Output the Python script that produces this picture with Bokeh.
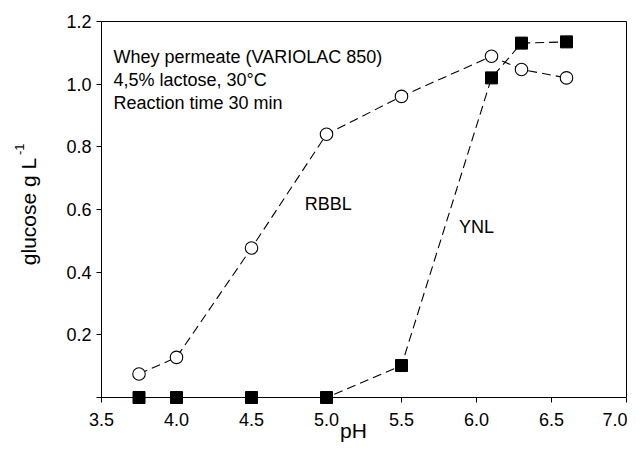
from bokeh.plotting import figure
from bokeh.models import Range1d, FixedTicker, NumeralTickFormatter, Label, ColumnDataSource
from bokeh.core.properties import value
from bokeh.embed import file_html
from bokeh.resources import INLINE
import math

# --- data ---
ph_rbbl = [3.75, 4.0, 4.5, 5.0, 5.5, 6.1, 6.3, 6.6]
glucose_rbbl = [0.075, 0.128, 0.477, 0.84, 0.961, 1.089, 1.047, 1.02]
ph_ynl = [3.75, 4.0, 4.5, 5.0, 5.5, 6.1, 6.3, 6.6]
glucose_ynl = [0.0, 0.0, 0.0, 0.0, 0.102, 1.02, 1.131, 1.135]
x_ticks = [3.5, 4.0, 4.5, 5.0, 5.5, 6.0, 6.5, 7.0]
y_ticks = [0.2, 0.4, 0.6, 0.8, 1.0, 1.2]
y_minor = [0.0]
notes = ["Whey permeate (VARIOLAC 850)", "4,5% lactose, 30°C", "Reaction time 30 min"]
x_title = "pH"
y_title = "glucose g L"
y_title_sup = "-1"

FONT = "Liberation Sans"

p = figure(frame_width=525, frame_height=376,
           min_border_left=101, min_border_right=1, min_border_top=21, min_border_bottom=46,
           x_range=Range1d(3.5, 7.0), y_range=Range1d(0, 1.2),
           output_backend="svg", toolbar_location=None, tools="")

p.xgrid.visible = False
p.ygrid.visible = False
p.outline_line_color = "black"
p.outline_line_width = 1
p.background_fill_color = "white"
p.border_fill_color = "white"

p.xaxis.ticker = FixedTicker(ticks=x_ticks)
p.yaxis.ticker = FixedTicker(ticks=y_ticks, minor_ticks=y_minor)
p.xaxis.formatter = NumeralTickFormatter(format="0.0")
p.yaxis.formatter = NumeralTickFormatter(format="0.0")
for ax in (p.xaxis, p.yaxis):
    ax.major_tick_out = 5
    ax.major_tick_in = 0
    ax.minor_tick_in = 0
    ax.minor_tick_out = 0
    ax.axis_line_color = "black"
    ax.major_tick_line_color = "black"
    ax.minor_tick_line_color = "black"
    ax.major_label_text_font = FONT
    ax.major_label_text_font_size = "18px"
    ax.major_label_text_color = "black"
p.yaxis.minor_tick_out = 5
p.xaxis.major_label_standoff = 10
p.yaxis.major_label_standoff = 5

src_r = ColumnDataSource(dict(x=ph_rbbl, y=glucose_rbbl))
src_y = ColumnDataSource(dict(x=ph_ynl, y=glucose_ynl))

p.line("x", "y", source=src_r, line_color="black", line_width=1.1, line_dash="9 5")
p.line("x", "y", source=src_y, line_color="black", line_width=1.1, line_dash="9 5")
p.scatter("x", "y", source=src_r, marker="circle", size=12.5,
          fill_color="white", line_color="black", line_width=1.1, level="overlay")
p.scatter("x", "y", source=src_y, marker="square", size=12,
          fill_color="black", line_color="black", level="overlay")

for txt, yy in zip(notes, [1.0854, 1.0137, 0.941]):
    p.add_layout(Label(x=3.58, y=yy, text=txt, text_font=FONT, text_font_size="18px",
                       text_baseline="alphabetic", text_align="left", text_color="black"))

p.add_layout(Label(x=4.855, y=0.6167, text="RBBL", text_font=FONT, text_font_size="18px",
                   text_baseline="alphabetic", text_color="black"))
p.add_layout(Label(x=5.884, y=0.5454, text="YNL", text_font=FONT, text_font_size="18px",
                   text_baseline="alphabetic", text_color="black"))

# axis titles drawn as unclipped text glyphs outside the frame
p.text(x=[5.18], y=[-0.1069], text=[x_title], level="overlay",
       text_font=value(FONT), text_font_size="21px", text_color="black",
       text_align="center", text_baseline="alphabetic")
p.text(x=[3.0113], y=[0.5936], text=[y_title], angle=math.pi / 2, level="overlay",
       text_font=value(FONT), text_font_size="21px", text_color="black",
       text_align="center", text_baseline="alphabetic")
p.text(x=[2.955], y=[0.7737], text=[y_title_sup], angle=math.pi / 2, level="overlay",
       text_font=value(FONT), text_font_size="13px", text_color="black",
       text_align="left", text_baseline="alphabetic")

open("out.html", "w").write(file_html(p, INLINE))
